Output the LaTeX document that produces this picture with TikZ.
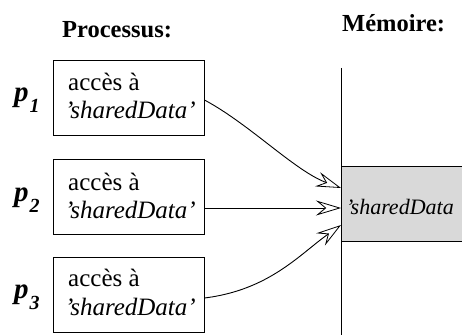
\documentclass[tikz,border=0pt]{standalone}
\usepackage{fontspec}
\setmainfont{Liberation Serif}
\usetikzlibrary{arrows.meta}

\tikzset{
  procbox/.style={draw, line width=0.9pt, minimum width=151pt, minimum height=75pt, inner sep=0pt},
  membox/.style={draw, line width=0.9pt, fill=gray!30, minimum width=140pt, minimum height=75pt, inner sep=0pt},
  boxtext/.style={anchor=base west, inner sep=0pt, font=\fontsize{25}{28}\selectfont},
  title/.style={anchor=base west, inner sep=0pt, font=\fontsize{24.5}{28}\selectfont\bfseries},
  plabel/.style={anchor=base west, inner sep=0pt, font=\fontsize{29}{30}\selectfont\bfseries\itshape},
  access/.style={line width=0.9pt, -{Stealth[open, length=25pt, width=15pt, inset=9pt, fill=white, line width=0.8pt]}},
}
\newcommand{\proclabel}[1]{p\kern1pt\raisebox{-11pt}{\fontsize{20}{20}\selectfont #1}}

\begin{document}
\begin{tikzpicture}[x=1pt, y=1pt]
  \useasboundingbox (0,0) rectangle (462,334);
  \clip (0,0) rectangle (462,334);

  % column headings
  \node[title] (hproc) at (62,296) {Processus:};
  \node[title] (hmem) at (342,302) {Mémoire:};

  % memory: vertical address line and the shared cell
  \coordinate (memtop) at (341,266);
  \coordinate (membot) at (341,-2);
  \draw[line width=0.9pt] (memtop) -- (membot);
  \node[membox, anchor=west] (mem) at (341,130.5) {};
  \node[boxtext, font=\fontsize{22}{28}\selectfont\itshape] (memtxt) at (346,119) {'sharedData};

  % processes
  \node[procbox] (b1) at (128.5,236.5) {};
  \node[procbox] (b2) at (128.5,137) {};
  \node[procbox] (b3) at (128.5,39.5) {};

  \node[boxtext] (t1a) at (68,243) {accès à};
  \node[boxtext] (t1b) at (65,215) {\itshape 'sharedData'};
  \node[boxtext] (t2a) at (68,143) {accès à};
  \node[boxtext] (t2b) at (65,115) {\itshape 'sharedData'};
  \node[boxtext] (t3a) at (68,47) {accès à};
  \node[boxtext] (t3b) at (65,19) {\itshape 'sharedData'};

  \node[plabel] (p1) at (14,232) {\proclabel{1}};
  \node[plabel] (p2) at (14,132) {\proclabel{2}};
  \node[plabel] (p3) at (14,35) {\proclabel{3}};

  % accesses to the shared cell
  \coordinate (m1) at ([yshift=15.5pt]mem.west);
  \coordinate (m2) at ([yshift=-4.5pt]mem.west);
  \coordinate (m3) at ([yshift=-21.5pt]mem.west);
  \draw[access] ([yshift=-2.5pt]b1.east) .. controls +(45,-24) and +(-46,17) .. (m1);
  \draw[access] ([yshift=-11pt]b2.east) -- (m2);
  \draw[access] ([yshift=-3.5pt]b3.east) .. controls +(65,8) and +(-41,-29) .. (m3);
\end{tikzpicture}
\end{document}
